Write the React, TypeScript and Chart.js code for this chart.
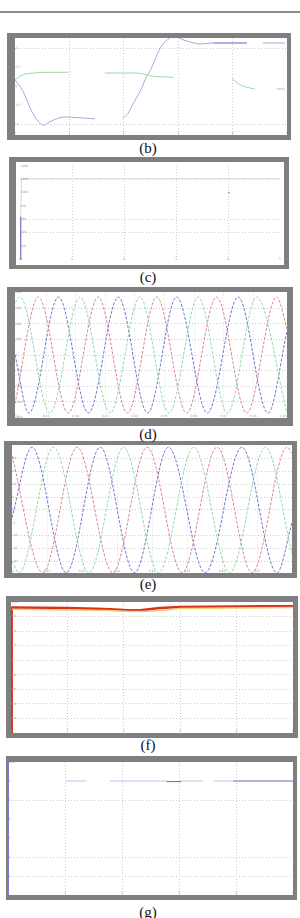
import React, { useEffect, useRef } from 'react';
import { Chart, registerables } from 'chart.js';

Chart.register(...registerables);

type Pt = [number, number | null];

// ---------------- (b) ----------------
const bBlue: Pt[] = [
  [0, 0.18], [0.15, -0.13], [0.28, -0.57], [0.4, -0.87], [0.49, -1.0], [0.52, -1.02],
  [0.64, -0.93], [0.8, -0.83], [0.95, -0.8], [1.04, -0.81], [1.47, -0.85],
  [1.7, null],
  [1.99, -0.83], [2.08, -0.7], [2.18, -0.43], [2.3, -0.13], [2.42, 0.27], [2.48, 0.4],
  [2.67, 1.01], [2.85, 1.28], [2.94, 1.32], [3.09, 1.23], [3.28, 1.15], [3.4, 1.12],
  [3.64, 1.145], [4.26, 1.145],
  [4.4, null],
  [4.56, 1.145], [4.96, 1.145],
];
const bBlueDark: Pt[] = [[3.64, 1.145], [4.26, 1.145]];
const bGreen: Pt[] = [
  [0, 0.18], [0.15, 0.31], [0.34, 0.355], [0.58, 0.374], [0.98, 0.374],
  [1.3, null],
  [1.65, 0.355], [2.18, 0.355], [2.42, 0.31], [2.48, 0.284], [2.91, 0.242],
  [3.4, null],
  [3.98, 0.224], [4.14, 0.047], [4.32, -0.04], [4.41, -0.066],
  [4.6, null],
  [4.81, -0.066], [4.96, -0.066],
];
const bXGrid = [1, 2, 3, 4];
const bYGrid = [-1, 1];
const bXTickVals = [0, 1, 2, 3, 4, 5];
const bXTickText = ['0', '1', '2', '3', '4', '5'];
const bYTickVals = [-1, -0.5, 0, 0.5, 1];
const bYTickText = ['-1', '-0.5', '0', '0.5', '1'];

// ---------------- (c) ----------------
const cRise: Pt[] = [[0.012, 0], [0.014, 3.2]];
const cLevel: Pt[] = [[0.014, 3.2], [0.03, 6.05], [5, 6.05]];
const cBlip: Pt[] = [[4.02, 5.0]];
const cXGrid = [1, 2, 3, 4];
const cYGrid = [2, 3, 6];
const cXTickVals = [0, 1, 2, 3, 4, 5];
const cXTickText = ['0', '1', '2', '3', '4', '5'];
const cYTickVals = [0, 1, 2, 3, 4, 5, 6, 7];
const cYTickText = ['0', '200', '400', '600', '800', '1000', '1200', '1400'];

// ---------------- (d) ----------------
const dGreen: Pt[] = [
  [-0.05, 0.84], [0.12, 0.93], [1.13, -0.93], [2.15, 0.93], [3.16, -0.93], [4.17, 0.93],
  [5.15, -0.93], [6.14, 0.93], [7.13, -0.93], [8.11, 0.93], [9.14, -0.93],
];
const dRed: Pt[] = [
  [-0.05, -0.78], [0.74, 0.93], [1.75, -0.93], [2.76, 0.93], [3.75, -0.93], [4.74, 0.93],
  [5.75, -0.93], [6.76, 0.93], [7.78, -0.93], [8.79, 0.93], [9.14, 0.42],
];
const dBlue: Pt[] = [
  [-0.05, 0.0], [0.42, -0.93], [1.42, 0.93], [2.43, -0.93], [3.44, 0.93], [4.43, -0.93],
  [5.41, 0.93], [6.45, -0.93], [7.49, 0.93], [8.5, -0.93], [9.14, 0.38],
];
const dXGrid = [1, 2, 3, 4, 5, 6, 7, 8];
const dYGrid = [-0.75, -0.5, -0.25, 0, 0.25, 0.5, 0.75];
const dXTickVals = [0, 1, 2, 3, 4, 5, 6, 7, 8, 9];
const dXTickText = ['0.2', '0.21', '0.22', '0.23', '0.24', '0.25', '0.26', '0.27', '0.28', '0.29'];
const dYTickVals = [-1, -0.75, -0.5, -0.25, 0, 0.25, 0.5, 0.75, 1];
const dYTickText = ['-400', '-300', '-200', '-100', '0', '100', '200', '300', '400'];

// ---------------- (e) ----------------
const eBlue: Pt[] = [
  [0, -0.6], [0.57, 4.88], [1.55, -4.88], [2.52, 4.88], [3.5, -4.88], [4.47, 4.88],
  [5.52, -4.88], [6.57, 4.88], [7.57, -4.88], [8, -1.0],
];
const eGreen: Pt[] = [
  [0, -4.0], [0.2, -4.88], [1.19, 4.88], [2.2, -4.88], [3.19, 4.88], [4.19, -4.88],
  [5.19, 4.88], [6.22, -4.88], [7.24, 4.88], [8, -3.4],
];
const eRed: Pt[] = [
  [0, 4.2], [0.88, -4.88], [1.86, 4.88], [2.88, -4.88], [3.86, 4.88], [4.86, -4.88],
  [5.86, 4.88], [6.86, -4.88], [7.86, 4.88], [8, 4.42],
];
const eXGrid = [1, 2, 3, 4, 5, 6, 7];
const eYGrid = [-4, -3, -2, 0, 1, 2, 3, 4];
const eXTickVals = [0, 1, 2, 3, 4, 5, 6, 7];
const eXTickText = ['0.2', '0.21', '0.22', '0.23', '0.24', '0.25', '0.26', '0.27'];
const eYTickVals = [-4, -3, -2, -1, 0, 1, 2, 3, 4];
const eYTickText = ['-20', '-15', '-10', '-5', '0', '5', '10', '15', '20'];

// ---------------- (f) ----------------
const fRed: Pt[] = [
  [0.01, 0], [0.012, 8.62], [0.5, 8.61], [1.0, 8.58], [1.5, 8.54], [1.76, 8.5], [2.0, 8.45],
  [2.29, 8.44], [2.64, 8.58], [3.0, 8.66], [3.5, 8.68], [4.0, 8.69], [4.5, 8.7], [5.0, 8.71],
];
const fYellow: Pt[] = [
  [0.02, 8.5], [1.7, 8.42], [2.1, 8.34], [2.5, 8.36], [3.0, 8.56], [5.0, 8.62],
];
const fXGrid = [1, 2, 3, 4];
const fYGrid = [1, 2, 3, 4, 5, 6, 7, 8];
const fXTickVals = [0, 1, 2, 3, 4, 5];
const fXTickText = ['0', '1', '2', '3', '4', '5'];
const fYTickVals = [1, 2, 3, 4, 5, 6, 7, 8, 9];
const fYTickText = ['0.2', '0.4', '0.6', '0.8', '1', '1.2', '1.4', '1.6', '×10⁴'];

// ---------------- (g) ----------------
const gRise: Pt[] = [[0.004, 0], [0.006, 7.2]];
const gLight: Pt[] = [
  [1.02, 6], [1.38, 6], [1.5, null], [1.78, 6], [2.78, 6], [2.9, null],
  [3.04, 6], [3.42, 6], [3.5, null], [3.6, 6], [3.95, 6],
];
const gDark: Pt[] = [[2.78, 5.97], [3.04, 5.97], [3.5, null], [3.95, 6.0], [5.0, 6.0]];
const gXGrid = [1, 2, 3, 4];
const gYGrid = [1, 2, 5];
const gXTickVals = [0, 1, 2, 3, 4, 5];
const gXTickText = ['0', '1', '2', '3', '4', '5'];
const gYTickVals = [1, 2, 3, 4, 5, 6, 7];
const gYTickText = ['1', '2', '3', '4', '5', '6', '×10⁴'];

// ---------------- styles / layout ----------------
const FRAME_GRAY = '#7f7f7f';
const GRID = '#cccccc';
const GRID_LIGHT = '#e2e2e2';
const BLUE = '#7276cf';
const RED = '#dd8494';
const GREEN = '#8fdca6';

type Series = {
  pts: Pt[];
  color: string;
  width?: number;
  dash?: number[];
  smooth?: boolean;
  point?: boolean;
};

type PanelSpec = {
  frame: [number, number, number, number];
  inner: [number, number, number, number];
  xr: [number, number];
  yr: [number, number];
  xGrid: number[];
  yGrid: number[];
  xGridColor?: string;
  yGridColor?: string;
  xTV: number[];
  xTT: string[];
  yTV: number[];
  yTT: string[];
  series: Series[];
};

const panels: PanelSpec[] = [
  {
    frame: [7, 33, 284, 107], inner: [15, 38, 272, 97], xr: [0, 5], yr: [-1.276, 1.276],
    xGrid: bXGrid, yGrid: bYGrid, xTV: bXTickVals, xTT: bXTickText, yTV: bYTickVals, yTT: bYTickText,
    series: [
      { pts: bGreen, color: '#95dca6', smooth: true },
      { pts: bBlue, color: '#a4a8de', smooth: true },
      { pts: bBlueDark, color: '#7074cc' },
    ],
  },
  {
    frame: [9, 157, 280, 112], inner: [16, 162, 268, 103], xr: [0, 5], yr: [-0.12, 7],
    xGrid: cXGrid, yGrid: cYGrid, xTV: cXTickVals, xTT: cXTickText, yTV: cYTickVals, yTT: cYTickText,
    series: [
      { pts: cLevel, color: '#d8d9e4' },
      { pts: cRise, color: '#7070d0', width: 1.2 },
      { pts: cBlip, color: '#a0a0a0', point: true },
    ],
  },
  {
    frame: [7, 287, 286, 139], inner: [15, 292, 272, 126], xr: [-0.05, 9.14], yr: [-1.01, 1.01],
    xGrid: dXGrid, yGrid: dYGrid, xGridColor: GRID_LIGHT, xTV: dXTickVals, xTT: dXTickText, yTV: dYTickVals, yTT: dYTickText,
    series: [
      { pts: dGreen, color: GREEN, dash: [3, 1.5], smooth: true },
      { pts: dRed, color: RED, dash: [3, 1.5], smooth: true },
      { pts: dBlue, color: BLUE, dash: [3, 1.5], smooth: true },
    ],
  },
  {
    frame: [4, 441, 293, 137], inner: [12, 445, 280, 128], xr: [0, 8], yr: [-4.9, 5.05],
    xGrid: eXGrid, yGrid: eYGrid, xGridColor: GRID_LIGHT, xTV: eXTickVals, xTT: eXTickText, yTV: eYTickVals, yTT: eYTickText,
    series: [
      { pts: eGreen, color: GREEN, dash: [3, 1.5], smooth: true },
      { pts: eRed, color: RED, dash: [3, 1.5], smooth: true },
      { pts: eBlue, color: BLUE, dash: [3, 1.5], smooth: true },
    ],
  },
  {
    frame: [6, 596, 292, 142], inner: [11, 602, 282, 131], xr: [0, 5], yr: [0, 9],
    xGrid: fXGrid, yGrid: fYGrid, xTV: fXTickVals, xTT: fXTickText, yTV: fYTickVals, yTT: fYTickText,
    series: [
      { pts: fYellow, color: '#f3d070', width: 1.5 },
      { pts: fRed, color: '#d8321f', width: 2.5 },
    ],
  },
  {
    frame: [6, 756, 291, 144], inner: [8, 762, 285, 133], xr: [0, 5], yr: [0, 7],
    xGrid: gXGrid, yGrid: gYGrid, xTV: gXTickVals, xTT: gXTickText, yTV: gYTickVals, yTT: gYTickText,
    series: [
      { pts: gRise, color: '#7074d0', width: 1.2 },
      { pts: gLight, color: '#c0c3e8' },
      { pts: gDark, color: '#6468c4' },
    ],
  },
];

const captions = [
  { text: '(b)', cy: 149 },
  { text: '(c)', cy: 278 },
  { text: '(d)', cy: 435 },
  { text: '(e)', cy: 585 },
  { text: '(f)', cy: 746 },
  { text: '(g)', cy: 913 },
];

function tinyTicks(xv: number[], xt: string[], yv: number[], yt: string[]) {
  return {
    id: 'tinyTicks',
    afterDraw(chart: any) {
      const { ctx, chartArea, scales } = chart;
      ctx.save();
      ctx.font = '3px "DejaVu Sans"';
      ctx.fillStyle = '#9a9a9a';
      ctx.textAlign = 'center';
      ctx.textBaseline = 'bottom';
      xv.forEach((v, i) => ctx.fillText(xt[i], scales.x.getPixelForValue(v), chartArea.bottom));
      ctx.textAlign = 'left';
      ctx.textBaseline = 'middle';
      yv.forEach((v, i) => ctx.fillText(yt[i], chartArea.left + 0.5, scales.y.getPixelForValue(v)));
      ctx.restore();
    },
  };
}

function axis(range: [number, number], grid: number[], color: string) {
  return {
    type: 'linear' as const,
    min: range[0],
    max: range[1],
    display: true,
    ticks: { display: false },
    grid: { color, lineWidth: 1, drawTicks: false },
    border: { display: false, dash: [1, 2] },
    afterBuildTicks: (s: any) => {
      s.ticks = grid.map((v) => ({ value: v }));
    },
  };
}

function buildConfig(p: PanelSpec): any {
  return {
    type: 'line',
    data: {
      datasets: p.series.map((s) => ({
        data: s.pts.map(([x, y]) => ({ x, y })),
        borderColor: s.color,
        backgroundColor: s.color,
        borderWidth: s.width ?? 1,
        borderDash: s.dash ?? [],
        showLine: !s.point,
        pointRadius: s.point ? 0.9 : 0,
        pointBorderWidth: 0,
        pointBackgroundColor: s.color,
        fill: false,
        spanGaps: false,
        tension: s.smooth ? 0.4 : 0,
        cubicInterpolationMode: s.smooth ? 'monotone' : 'default',
      })),
    },
    options: {
      animation: false,
      responsive: false,
      devicePixelRatio: 1,
      events: [],
      layout: { padding: 0 },
      plugins: { legend: { display: false }, tooltip: { enabled: false } },
      scales: {
        x: axis(p.xr, p.xGrid, p.xGridColor ?? GRID),
        y: axis(p.yr, p.yGrid, p.yGridColor ?? GRID),
      },
    },
    plugins: [tinyTicks(p.xTV, p.xTT, p.yTV, p.yTT)],
  };
}

function Panel({ spec }: { spec: PanelSpec }) {
  const ref = useRef<HTMLCanvasElement>(null);
  useEffect(() => {
    const chart = new Chart(ref.current as HTMLCanvasElement, buildConfig(spec));
    return () => chart.destroy();
  }, [spec]);
  const [fx, fy, fw, fh] = spec.frame;
  const [ix, iy, iw, ih] = spec.inner;
  return (
    <div style={{ position: 'absolute', left: fx, top: fy, width: fw, height: fh, background: FRAME_GRAY }}>
      <canvas
        ref={ref}
        width={iw}
        height={ih}
        style={{ position: 'absolute', left: ix - fx, top: iy - fy, width: iw, height: ih, background: '#ffffff', display: 'block' }}
      />
    </div>
  );
}

export default function App() {
  return (
    <div style={{ position: 'absolute', left: 0, top: 0, width: 300, height: 918, background: '#ffffff', overflow: 'hidden' }}>
      <div style={{ position: 'absolute', left: 0, top: 11, width: 300, height: 2, background: '#8a8a8a' }} />
      {panels.map((p, i) => (
        <Panel key={i} spec={p} />
      ))}
      {captions.map((c) => (
        <div
          key={c.text}
          style={{
            position: 'absolute',
            left: 0,
            width: 296,
            top: c.cy - 7.6,
            height: 15,
            lineHeight: '15px',
            textAlign: 'center',
            fontFamily: '"Liberation Serif", "DejaVu Serif", serif',
            fontSize: 15,
            color: '#111',
          }}
        >
          {c.text}
        </div>
      ))}
    </div>
  );
}
